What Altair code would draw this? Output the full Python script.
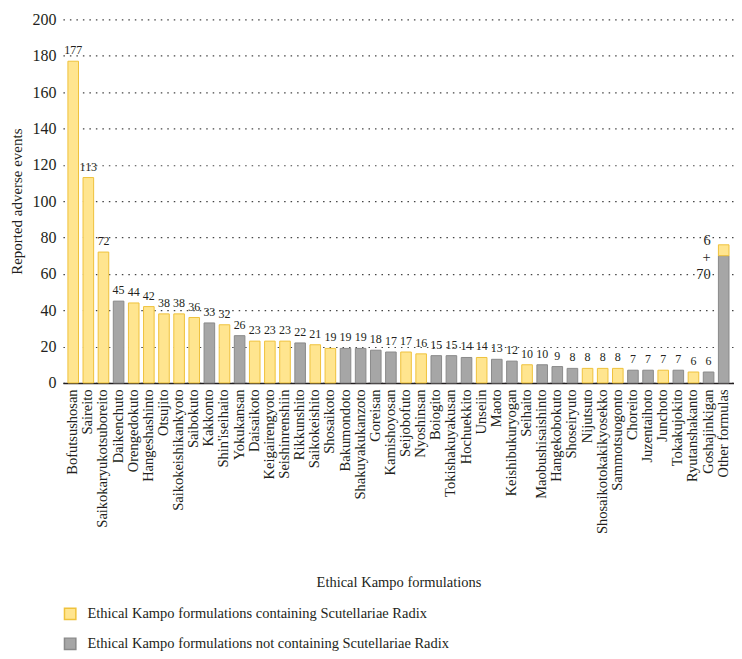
import altair as alt
import pandas as pd

names = ["Bofutsushosan", "Saireito", "Saikokaryukotsuboreito", "Daikenchuto", "Orengedokuto",
         "Hangeshashinto", "Otsujito", "Saikokeishikankyoto", "Saibokuto", "Kakkonto",
         "Shin'iseihaito", "Yokukansan", "Daisaikoto", "Keigairengyoto", "Seishinrenshiin",
         "Rikkunshito", "Saikokeishito", "Shosaikoto", "Bakumondoto", "Shakuyakukanzoto",
         "Goreisan", "Kamishoyosan", "Seijobofuto", "Nyoshinsan", "Boiogito",
         "Tokishakuyakusan", "Hochuekkito", "Unseiin", "Maoto", "Keishibukuryogan",
         "Seihaito", "Maobushisaishinto", "Hangekobokuto", "Shoseiryuto", "Nijutsuto",
         "Shosaikotokakikyosekko", "Sammotsuogonto", "Choreito", "Juzentaihoto", "Junchoto",
         "Tokakujokito", "Ryutanshakanto", "Goshajinkigan", "Other formulas"]
values = [177, 113, 72, 45, 44, 42, 38, 38, 36, 33, 32, 26, 23, 23, 23, 22, 21, 19, 19, 19,
          18, 17, 17, 16, 15, 15, 14, 14, 13, 12, 10, 10, 9, 8, 8, 8, 8, 7, 7, 7, 7, 6, 6]
contains_sr = [1, 1, 1, 0, 1, 1, 1, 1, 1, 0, 1, 0, 1, 1, 1, 0, 1, 1, 0, 0,
               0, 0, 1, 1, 0, 0, 0, 1, 0, 0, 1, 0, 0, 0, 1, 1, 1, 0, 0, 1, 0, 1, 0]
other_with_sr = 6
other_without_sr = 70
y_ticks = [0, 20, 40, 60, 80, 100, 120, 140, 160, 180, 200]

G_YES = "Ethical Kampo formulations containing Scutellariae Radix"
G_NO = "Ethical Kampo formulations not containing Scutellariae Radix"

rows = []
labels = []
for n, v, c in zip(names[:-1], values, contains_sr):
    rows.append({"name": n, "value": v, "group": G_YES if c else G_NO, "ord": 0})
    labels.append({"name": n, "value": v, "label": str(v)})
rows.append({"name": names[-1], "value": other_without_sr, "group": G_NO, "ord": 0})
rows.append({"name": names[-1], "value": other_with_sr, "group": G_YES, "ord": 1})
other_label = pd.DataFrame([{"name": names[-1], "value": other_with_sr + other_without_sr,
                             "label": f"{other_with_sr}\n+\n{other_without_sr}"}])

df = pd.DataFrame(rows)
lab = pd.DataFrame(labels)

FONT = "Liberation Serif"
TXT = "#231f20"

xaxis = alt.Axis(title="Ethical Kampo formulations", labelAngle=-90, labelFontSize=14.5,
                 labelFont=FONT, labelColor=TXT, labelPadding=6, ticks=False,
                 domainColor=TXT, domainWidth=1.5, titleFont=FONT,
                 titleFontSize=14.5, titleFontWeight="normal", titleColor=TXT,
                 titleY=200, titleBaseline="middle", labelLimit=300)
xenc = alt.X("name:N", sort=names,
             scale=alt.Scale(paddingInner=0.3, paddingOuter=0.33), axis=xaxis)
yaxis = alt.Axis(title="Reported adverse events", values=y_ticks,
                 labelFontSize=16, labelFont=FONT, labelColor=TXT, labelPadding=7,
                 labelOverlap=False, domain=False, ticks=False, grid=True, gridDash=[1.5, 5],
                 gridColor="#444", gridWidth=1.2, titleFont=FONT, titleFontSize=15,
                 titleFontWeight="normal", titleColor=TXT, titlePadding=7)
yscale = alt.Scale(domain=[0, 200])
yenc = alt.Y("value:Q", stack="zero", scale=yscale, axis=yaxis)

leg = dict(title=None, orient="none", legendX=0, legendY=588,
           labelFont=FONT, labelFontSize=14.5, labelColor=TXT,
           symbolType="square", symbolSize=130, rowPadding=12,
           labelOffset=10, padding=0, labelLimit=600)

bars = alt.Chart(df).mark_bar(strokeWidth=1).encode(
    x=xenc,
    y=yenc,
    color=alt.Color("group:N", scale=alt.Scale(domain=[G_YES, G_NO], range=["#ffe58f", "#a6a6a6"]),
                    legend=alt.Legend(**leg)),
    stroke=alt.Stroke("group:N", scale=alt.Scale(domain=[G_YES, G_NO], range=["#efc23c", "#8a8a8a"]),
                      legend=alt.Legend(**leg)),
    order=alt.Order("ord:Q"),
)

text = alt.Chart(lab).mark_text(font=FONT, fontSize=12, color=TXT, baseline="bottom", dy=-4).encode(
    x=xenc, y=alt.Y("value:Q", scale=yscale, axis=yaxis), text="label:N")

text_other = alt.Chart(other_label).mark_text(font=FONT, fontSize=14.5, color=TXT, align="right",
                                              baseline="top", lineBreak="\n", lineHeight=17,
                                              dx=-13, dy=-11).encode(
    x=xenc, y=alt.Y("value:Q", scale=yscale, axis=yaxis), text="label:N")

chart = alt.layer(bars, text, text_other).properties(
    width=672, height=364,
    padding={"left": 2, "top": 3, "right": 0, "bottom": 0},
).configure_view(stroke=None)

chart.save("out.html", embed_options={"renderer": "svg", "actions": False})
